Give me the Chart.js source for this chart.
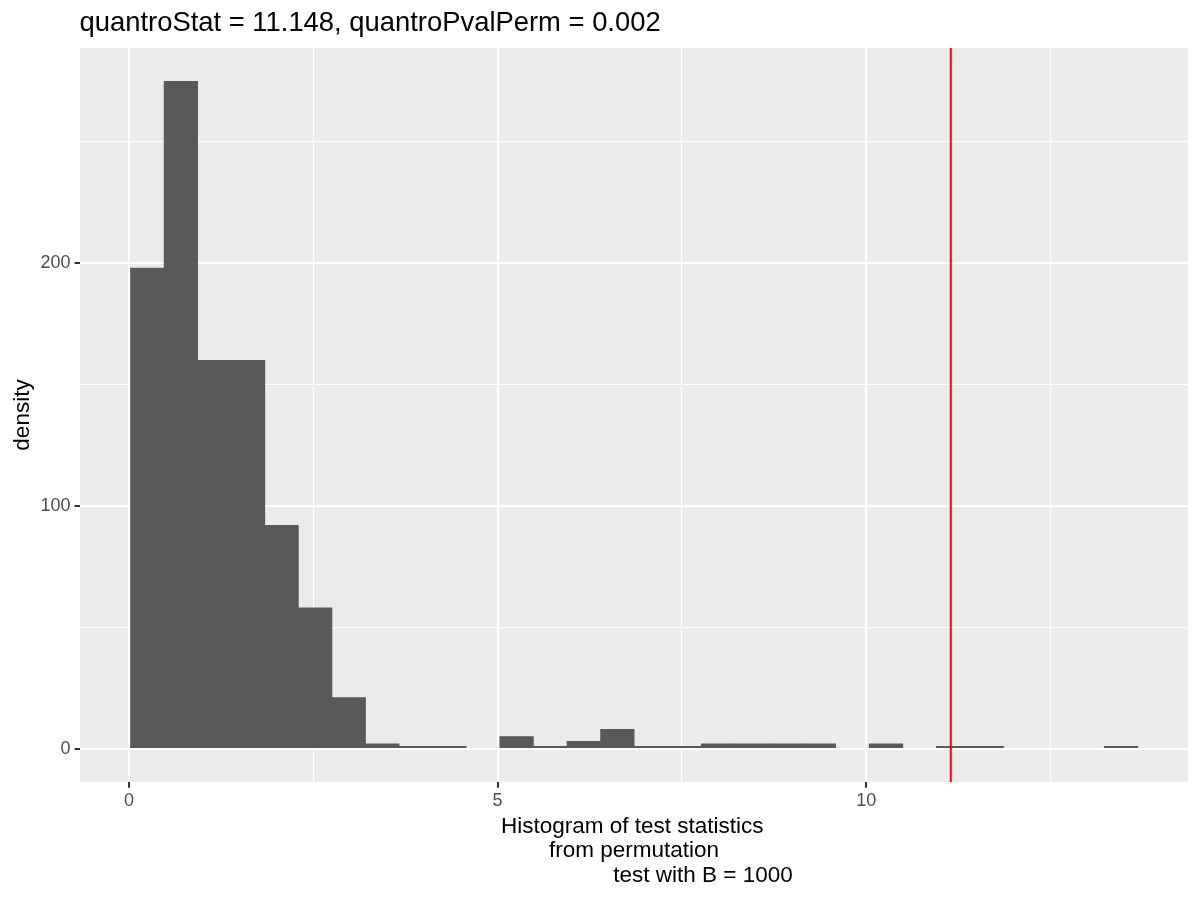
<!DOCTYPE html>
<html>
<head>
<meta charset="utf-8">
<script src="https://cdn.jsdelivr.net/npm/chart.js@4.4.1/dist/chart.umd.min.js"></script>
<style>html,body{margin:0;padding:0;background:#ffffff;}canvas{display:block;}</style>
</head>
<body>
<canvas id="c" width="1200" height="900"></canvas>
<script>
// ---- data ----
const binCenters = [0.2478, 0.7033, 1.1588, 1.6143, 2.0698, 2.5253, 2.9808, 3.4363, 3.8918, 4.3473,
                    4.8028, 5.2583, 5.7138, 6.1693, 6.6248, 7.0803, 7.5358, 7.9913, 8.4468, 8.9023,
                    9.3578, 9.8133, 10.2688, 10.7243, 11.1798, 11.6353, 12.0908, 12.5463, 13.0018, 13.4573];
const binCounts = [198, 275, 160, 160, 92, 58, 21, 2, 1, 1,
                   0, 5, 1, 3, 8, 1, 1, 2, 2, 2,
                   2, 0, 2, 0, 1, 1, 0, 0, 0, 1];
const observedStat = 11.148;
const xTickValues = [0, 2.5, 5, 7.5, 10, 12.5];
const xTickLabels = ['0', '', '5', '', '10', ''];
const yTickValues = [0, 50, 100, 150, 200, 250];
const yTickLabels = ['0', '', '100', '', '200', ''];
const titleText = 'quantroStat = 11.148, quantroPvalPerm = 0.002';
const xTitleLines = ['Histogram of test statistics', 'from permutation', 'test with B = 1000'];
const yTitleText = 'density';

// ---- axis limits (ggplot 5% expansion) ----
const xMin = -0.665, xMax = 14.366;
const yMin = -13.75, yMax = 288.75;

const FONT = '"Liberation Sans", Arial, Helvetica, sans-serif';
const xTitleOffsets = [-1.8, 0, 69];

function majorOf(labels, values) {
  return ctx => {
    if (!ctx || !ctx.tick) return true;
    const i = values.indexOf(ctx.tick.value);
    return i >= 0 && labels[i] !== '';
  };
}
const xMajor = majorOf(xTickLabels, xTickValues);
const yMajor = majorOf(yTickLabels, yTickValues);

const ggPlugin = {
  id: 'ggDecor',
  beforeDraw(chart) {
    const {ctx, chartArea: a} = chart;
    ctx.save();
    ctx.fillStyle = '#ffffff';
    ctx.fillRect(0, 0, chart.width, chart.height);
    ctx.fillStyle = '#EBEBEB';
    ctx.fillRect(a.left, a.top, a.right - a.left, a.bottom - a.top);
    ctx.restore();
  },
  afterDraw(chart) {
    const {ctx, chartArea: a} = chart;
    const xs = chart.scales.x;
    ctx.save();
    // x-axis tick marks at labelled ticks
    ctx.strokeStyle = '#333333';
    ctx.lineWidth = 2;
    xTickValues.forEach((v, i) => {
      if (xTickLabels[i] === '') return;
      const px = Math.round(xs.getPixelForValue(v));
      ctx.beginPath();
      ctx.moveTo(px, a.bottom);
      ctx.lineTo(px, a.bottom + 5.5);
      ctx.stroke();
    });
    ctx.fillStyle = '#000000';
    ctx.textBaseline = 'alphabetic';
    ctx.textAlign = 'left';
    ctx.font = '27.4px ' + FONT;
    ctx.fillText(titleText, a.left - 0.5, 31);
    ctx.font = '22.5px ' + FONT;
    ctx.textAlign = 'center';
    const cx = (a.left + a.right) / 2;
    xTitleLines.forEach((t, i) => {
      ctx.fillText(t, cx + xTitleOffsets[i], a.bottom + 50.5 + i * 24.5);
    });
    ctx.restore();
  }
};

new Chart(document.getElementById('c'), {
  data: {
    datasets: [
      {
        type: 'line',
        data: [{x: observedStat, y: yMin}, {x: observedStat, y: yMax}],
        borderColor: '#FF0000',
        borderWidth: 2,
        pointRadius: 0,
        fill: false,
        order: 1
      },
      {
        type: 'bar',
        data: binCenters.map((c, i) => ({x: c, y: binCounts[i]})),
        backgroundColor: ctx => (ctx.raw && ctx.raw.y === 0) ? 'rgba(0,0,0,0)' : '#595959',
        borderWidth: 0,
        barPercentage: 1.0,
        categoryPercentage: 1.0,
        order: 2
      }
    ]
  },
  options: {
    responsive: false,
    devicePixelRatio: 1,
    animation: false,
    events: [],
    layout: {padding: {top: 48, right: 12, left: 0, bottom: 0}},
    plugins: {legend: {display: false}, tooltip: {enabled: false}, title: {display: false}},
    scales: {
      x: {
        type: 'linear',
        position: 'bottom',
        offset: false,
        min: xMin,
        max: xMax,
        afterBuildTicks: s => { s.ticks = xTickValues.map(v => ({value: v})); },
        afterFit: s => { s.height = 118; },
        ticks: {
          autoSkip: false,
          maxRotation: 0,
          padding: 3,
          color: '#4D4D4D',
          font: {family: FONT, size: 18},
          callback: v => { const i = xTickValues.indexOf(v); return i >= 0 ? xTickLabels[i] : ''; }
        },
        grid: {
          offset: false,
          drawTicks: true,
          color: '#FFFFFF',
          lineWidth: ctx => xMajor(ctx) ? 2 : 1.1,
          tickLength: 5.5,
          tickWidth: 2,
          tickColor: ctx => xMajor(ctx) ? '#333333' : 'rgba(0,0,0,0)'
        },
        border: {display: false},
        title: {display: false}
      },
      y: {
        type: 'linear',
        position: 'left',
        min: yMin,
        max: yMax,
        afterBuildTicks: s => { s.ticks = yTickValues.map(v => ({value: v})); },
        afterFit: s => { s.width = 80; },
        ticks: {
          autoSkip: false,
          padding: 4,
          color: '#4D4D4D',
          font: {family: FONT, size: 18},
          callback: v => { const i = yTickValues.indexOf(v); return i >= 0 ? yTickLabels[i] : ''; }
        },
        grid: {
          color: '#FFFFFF',
          lineWidth: ctx => yMajor(ctx) ? 2 : 1.1,
          tickLength: 5.5,
          tickWidth: 2,
          tickColor: ctx => yMajor(ctx) ? '#333333' : 'rgba(0,0,0,0)'
        },
        border: {display: false},
        title: {
          display: true,
          text: yTitleText,
          color: '#000000',
          font: {family: FONT, size: 22.5},
          padding: {top: 9, bottom: 0}
        }
      }
    }
  },
  plugins: [ggPlugin]
});
</script>
</body>
</html>
